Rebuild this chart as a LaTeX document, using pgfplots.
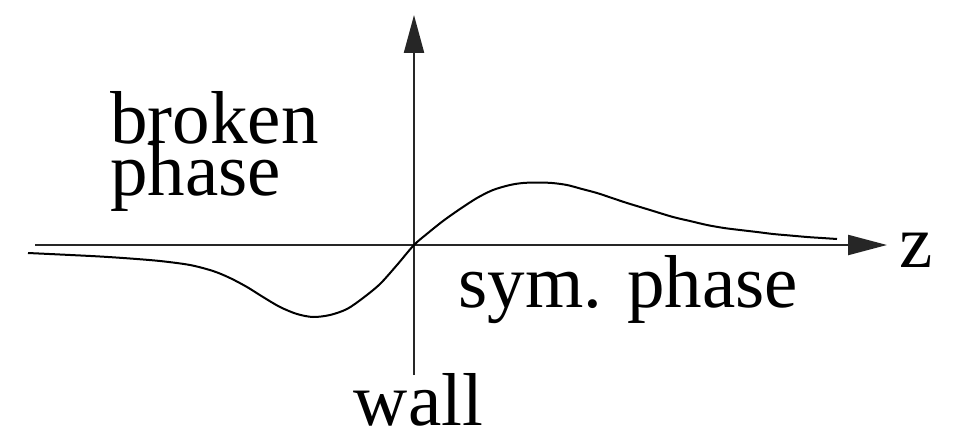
\documentclass[border=0pt]{standalone}
\usepackage{pgfplots}
\pgfplotsset{compat=1.18}
\usepackage{fontspec}
\setmainfont{Liberation Serif}
\usetikzlibrary{arrows.meta}
\newcommand{\bigf}{\fontsize{37.5pt}{40pt}\selectfont}
\newcommand{\bigtight}{\fontsize{37.5pt}{26pt}\selectfont\lineskiplimit=-100pt}
\begin{document}
\begin{tikzpicture}
\begin{axis}[
  width=478.5pt, height=220pt, scale only axis,
  xmin=0, xmax=957, ymin=0, ymax=440,
  axis line style={draw=none}, ticks=none,
  clip=false,
]
\path (axis cs:0,0) rectangle (axis cs:957,440);
% horizontal axis
\addplot[black!85, line width=1.1pt, -{Triangle[length=19.5pt,width=10pt]}]
  coordinates {(35,195) (887,195)};
% vertical axis (wall)
\addplot[black!85, line width=1.1pt, -{Triangle[length=19pt,width=10pt]}]
  coordinates {(414,65) (414,425)};
% profile
\addplot[black, line width=1pt, smooth] coordinates {
(28,187) (60,185.5) (100,183.5) (130,181.5) (160,179) (190,175) (213,169)
(230,162) (247,153) (263,143) (280,133) (297,126) (313,123) (330,125)
(347,131) (363,142) (380,156) (397,175) (414,195) (428,207) (443,219)
(460,231) (477,242) (493,250) (510,255) (523,257) (537,257.5) (552,257)
(567,255) (582,251) (597,247) (612,242) (627,237) (650,230) (673,223)
(690,219) (707,215) (724,212) (740,210) (757,208) (773,206) (790,204.5)
(807,203) (822,202) (837,201)};
\node[anchor=base west, inner sep=0pt, align=left, font=\bigtight] at (axis cs:110,245) {broken\\phase};
\node[anchor=base west, inner sep=0pt, font=\bigf] at (axis cs:458,133) {sym. phase};
\node[anchor=base west, inner sep=0pt, font=\bigf] at (axis cs:899,173) {z};
\node[anchor=base, inner sep=0pt, font=\bigf] at (axis cs:418.5,15) {wall};
\end{axis}
\end{tikzpicture}
\end{document}
